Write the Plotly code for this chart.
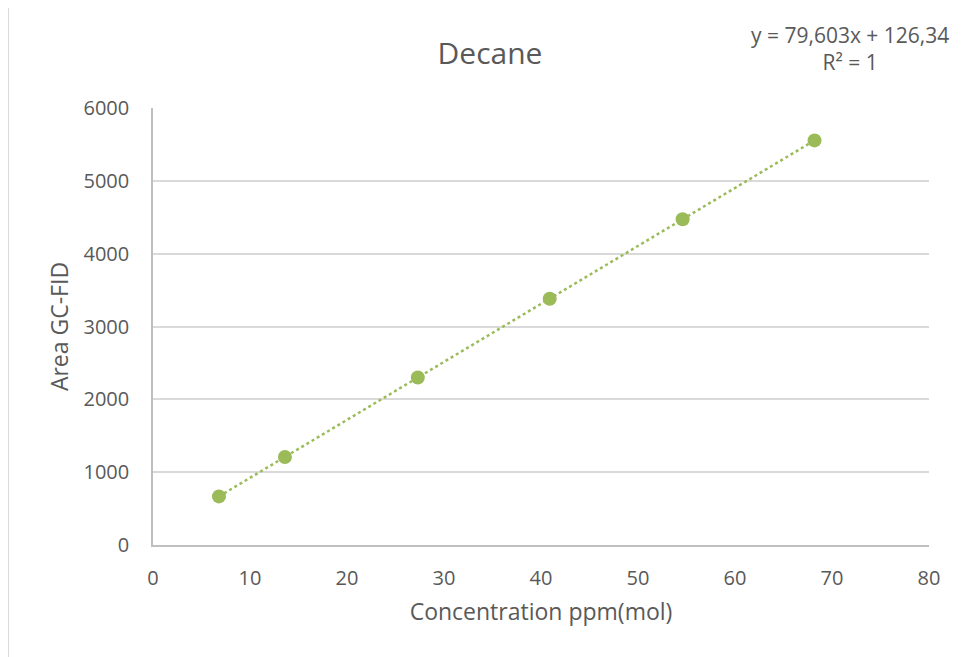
import numpy as np
import plotly.graph_objects as go

# Data
concentration = [6.8, 13.6, 27.3, 40.9, 54.6, 68.2]
area = [667, 1209, 2299, 3382, 4473, 5555]
x_ticks = [0, 10, 20, 30, 40, 50, 60, 70, 80]
y_ticks = [0, 1000, 2000, 3000, 4000, 5000, 6000]
title = "Decane"
x_title = "Concentration ppm(mol)"
y_title = "Area GC-FID"
equation_text = "y = 79,603x + 126,34<br>R² = 1"

GREEN = "#9BBB59"
TXT = "#595959"
FONT = "Open Sans, Liberation Sans, sans-serif"

slope, intercept = np.polyfit(concentration, area, 1)
trend_x = [min(concentration), max(concentration)]
trend_y = [slope * v + intercept for v in trend_x]

fig = go.Figure()
fig.add_trace(go.Scatter(x=trend_x, y=trend_y, mode="lines",
                         line=dict(color=GREEN, width=2.5, dash="dot"),
                         hoverinfo="skip", showlegend=False))
fig.add_trace(go.Scatter(x=concentration, y=area, mode="markers",
                         marker=dict(color=GREEN, size=14, line=dict(width=0)),
                         showlegend=False))

fig.update_layout(
    width=962, height=657,
    margin=dict(l=145, r=41, t=100, b=120),
    paper_bgcolor="white", plot_bgcolor="white",
    font=dict(family=FONT, color=TXT, size=20),
    title=dict(text=title, x=(490 - 8) / 962, xanchor="center",
               y=1 - (53 - 8) / 657, yanchor="middle",
               font=dict(size=30, color=TXT, family=FONT)),
    xaxis=dict(range=[0, 80], tickvals=x_ticks, showgrid=False, zeroline=False,
               showline=True, linecolor="#BFBFBF", linewidth=1.5,
               ticks="outside", ticklen=14, tickcolor="rgba(0,0,0,0)",
               tickfont=dict(size=20, color=TXT),
               title=dict(text=x_title, font=dict(size=23, color=TXT), standoff=14)),
    yaxis=dict(range=[0, 6000], tickvals=y_ticks, showgrid=True, gridcolor="#D9D9D9",
               gridwidth=1.5, zeroline=False, showline=True, linecolor="#BFBFBF",
               linewidth=1.5, ticks="outside", ticklen=18, tickcolor="rgba(0,0,0,0)",
               tickfont=dict(size=20, color=TXT),
               title=dict(text=y_title, font=dict(size=23, color=TXT), standoff=8)),
    annotations=[dict(text=equation_text, xref="paper", yref="paper",
                      x=(850 - 153) / 776, y=(545 - 48) / 437,
                      xanchor="center", yanchor="middle", showarrow=False,
                      align="center", font=dict(size=21, color=TXT, family=FONT))],
    shapes=[
        dict(type="line", xref="paper", yref="paper",
             x0=(8 - 153) / 776, x1=(8 - 153) / 776,
             y0=(545 - 1) / 437, y1=(545 - 670) / 437,
             line=dict(color="#D9D9D9", width=2)),
        dict(type="line", xref="paper", yref="paper",
             x0=(8 - 153) / 776, x1=(975 - 153) / 776,
             y0=(545 - 1) / 437, y1=(545 - 1) / 437,
             line=dict(color="#D9D9D9", width=2)),
    ],
)

fig.write_html("out.html")
